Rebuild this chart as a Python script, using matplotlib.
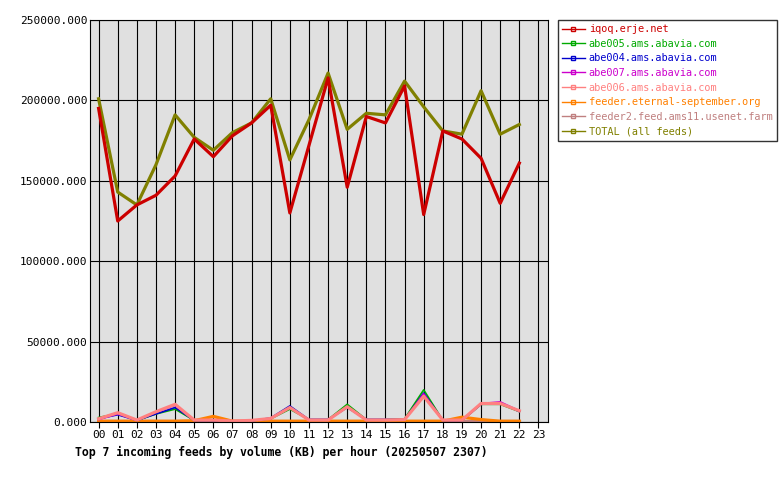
import matplotlib
matplotlib.use("Agg")
import matplotlib.pyplot as plt
from matplotlib.ticker import FuncFormatter

hours = list(range(23))
hour_labels = ["%02d" % h for h in range(24)]

iqoq = [195000, 125000, 135000, 141000, 153000, 176000, 165000, 178000, 186000, 197000, 130000, 172000,
        214000, 146000, 190000, 186000, 209000, 129000, 181000, 176000, 164000, 136000, 161000]
abe005 = [2800, 5200, 1000, 5000, 8000, 1000, 1000, 500, 800, 2000, 8000, 1500,
          1500, 11000, 1500, 1500, 2000, 20000, 1000, 1000, 11000, 11000, 6500]
abe004 = [2000, 4500, 1000, 5000, 9000, 1000, 1000, 500, 800, 2500, 10000, 1500,
          1500, 9000, 1500, 1500, 1500, 18000, 1000, 1000, 11000, 12000, 6500]
abe007 = [1500, 5000, 1000, 6000, 10500, 1000, 1000, 500, 800, 2200, 9000, 1500,
          1500, 9500, 1500, 1500, 1500, 17500, 1000, 1000, 11500, 12500, 7000]
abe006 = [2000, 5800, 1200, 6400, 11000, 1200, 1200, 600, 1000, 2200, 9000, 1200,
          1200, 9500, 1200, 1200, 1500, 16000, 1200, 1200, 11500, 11500, 7000]
eternal = [500, 500, 500, 500, 500, 800, 3500, 500, 400, 500, 500, 500,
           500, 500, 500, 500, 500, 500, 500, 3000, 1500, 500, 500]
feeder2 = [800, 800, 800, 800, 800, 800, 800, 800, 800, 800, 800, 800,
           800, 800, 800, 800, 800, 800, 800, 800, 800, 800, 800]
total = [201000, 143000, 135000, 160000, 191000, 177000, 169000, 180000, 186000, 201000, 163000, 188000,
         217000, 182000, 192000, 191000, 212000, 196000, 181000, 179000, 206000, 179000, 185000]

series = [
    ("iqoq.erje.net", iqoq, "#cc0000", 2.3),
    ("abe005.ams.abavia.com", abe005, "#00aa00", 1.2),
    ("abe004.ams.abavia.com", abe004, "#0000cc", 1.2),
    ("abe007.ams.abavia.com", abe007, "#cc00cc", 1.2),
    ("abe006.ams.abavia.com", abe006, "#ff8080", 2.3),
    ("feeder.eternal-september.org", eternal, "#ff8000", 2.3),
    ("feeder2.feed.ams11.usenet.farm", feeder2, "#c08080", 2.3),
    ("TOTAL (all feeds)", total, "#808000", 2.3),
]

plt.rcParams["font.family"] = "DejaVu Sans Mono"
fig = plt.figure(figsize=(7.8, 4.8), dpi=100)
ax = fig.add_axes([90 / 780, 58 / 480, 458 / 780, 402 / 480])
ax.set_facecolor("#e0e0e0")

order = [7, 6, 5, 1, 2, 3, 4, 0]
for i in order:
    name, vals, color, lw = series[i]
    ax.plot(hours, vals, color=color, lw=lw, zorder=2)

ax.set_xlim(-0.45, 23.5)
ax.set_ylim(0, 250000)
ax.set_xticks(range(24))
ax.set_xticklabels(hour_labels, fontsize=8)
ax.set_yticks(range(0, 250001, 50000))
ax.yaxis.set_major_formatter(FuncFormatter(lambda v, p: "%.3f" % v))
ax.tick_params(axis="y", labelsize=8, length=0, pad=2)
ax.tick_params(axis="x", length=4, pad=2)
ax.grid(True, color="black", lw=0.8, zorder=1)
ax.set_axisbelow(True)
for s in ax.spines.values():
    s.set_linewidth(0.8)

handles = [plt.Line2D([], [], color=c, lw=1, marker="s", markersize=3, markerfacecolor="none")
           for _, _, c, _ in series]
leg = fig.legend(handles, [s[0] for s in series], loc="upper left",
                 bbox_to_anchor=(558 / 780, 1 - 20 / 480), fontsize=7.4, frameon=True,
                 fancybox=False, edgecolor="black", handlelength=2.2, labelspacing=0.45,
                 borderpad=0.4, handletextpad=0.4, borderaxespad=0)
for txt, (_, _, c, _) in zip(leg.get_texts(), series):
    txt.set_color(c)

fig.text(75 / 780, 1 - 452 / 480, "Top 7 incoming feeds by volume (KB) per hour (20250507 2307)",
         fontsize=8.3, fontweight="bold", va="center")

fig.savefig("out.png", dpi=100)
